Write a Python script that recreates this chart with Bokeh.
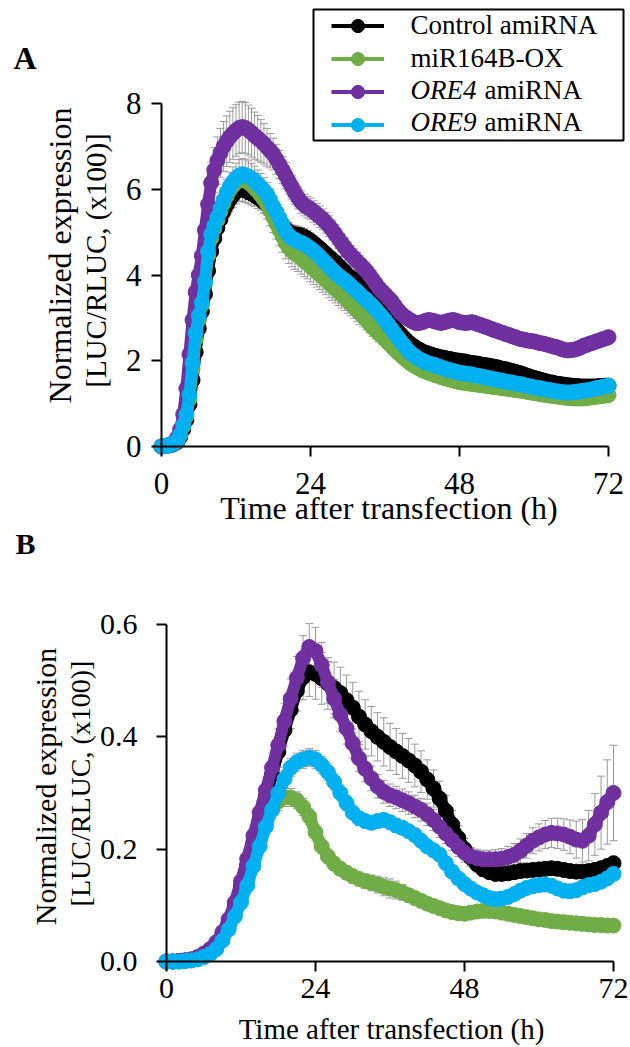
import math
from bokeh.plotting import figure
from bokeh.models import (ColumnDataSource, Range1d, FixedTicker, PrintfTickFormatter,
                          Label, Legend, LegendItem, BoxAnnotation, Whisker, TeeHead)
from bokeh.core.properties import value
from bokeh.layouts import column
from bokeh.embed import file_html
from bokeh.resources import INLINE

FONT = "Liberation Serif"
SERIES = ["Control amiRNA", "miR164B-OX", "ORE4 amiRNA", "ORE9 amiRNA"]
COLORS = ["#000000", "#70ad47", "#7030a0", "#00b0f0"]
ERR_COLOR = "#9a9a9a"
X_TICKS = [0, 24, 48, 72]
A_Y_TICKS = [0, 2, 4, 6, 8]
B_Y_TICKS = [0.0, 0.2, 0.4, 0.6]
X_TITLE = "Time after transfection (h)"
Y_TITLE_1 = "Normalized expression"
Y_TITLE_2 = "[LUC/RLUC, (x100)]"

# ---------------- Panel A (readings every 30 min, 0-72 h) ----------------
A_TIME = [i * 0.5 for i in range(145)]

A_CONTROL = [
    0.00, 0.01, 0.02, 0.03, 0.06, 0.10, 0.22, 0.40, 0.62, 0.98,
    1.55, 2.20, 2.75, 3.15, 3.55, 4.10, 4.55, 4.85, 5.10, 5.30,
    5.48, 5.63, 5.76, 5.86, 5.94, 6.00, 6.00, 5.97, 5.93, 5.90,
    5.86, 5.81, 5.76, 5.70, 5.64, 5.56, 5.48, 5.38, 5.28, 5.17,
    5.08, 5.01, 4.97, 4.95, 4.94, 4.92, 4.89, 4.85, 4.80, 4.74,
    4.68, 4.62, 4.55, 4.49, 4.42, 4.36, 4.30, 4.22, 4.15, 4.08,
    4.00, 3.94, 3.88, 3.81, 3.75, 3.68, 3.60, 3.52, 3.45, 3.36,
    3.27, 3.18, 3.10, 3.00, 2.90, 2.80, 2.70, 2.62, 2.54, 2.47,
    2.40, 2.35, 2.30, 2.26, 2.22, 2.19, 2.17, 2.14, 2.12, 2.10,
    2.08, 2.07, 2.05, 2.04, 2.02, 2.01, 2.00, 1.99, 1.98, 1.96,
    1.95, 1.94, 1.93, 1.91, 1.90, 1.89, 1.88, 1.86, 1.85, 1.83,
    1.81, 1.80, 1.78, 1.76, 1.74, 1.72, 1.70, 1.67, 1.65, 1.62,
    1.60, 1.58, 1.56, 1.54, 1.52, 1.50, 1.49, 1.47, 1.46, 1.45,
    1.44, 1.43, 1.42, 1.41, 1.41, 1.40, 1.40, 1.40, 1.40, 1.40,
    1.40, 1.41, 1.41, 1.42, 1.42]
A_MIR164 = [
    0.00, 0.01, 0.02, 0.04, 0.07, 0.12, 0.26, 0.46, 0.70, 1.10,
    1.80, 2.50, 2.95, 3.30, 3.80, 4.45, 4.85, 5.08, 5.28, 5.48,
    5.67, 5.84, 5.98, 6.08, 6.16, 6.20, 6.22, 6.20, 6.16, 6.10,
    6.03, 5.95, 5.86, 5.76, 5.65, 5.50, 5.35, 5.20, 5.05, 4.90,
    4.75, 4.64, 4.56, 4.50, 4.45, 4.39, 4.33, 4.27, 4.20, 4.14,
    4.07, 4.01, 3.95, 3.88, 3.81, 3.74, 3.68, 3.61, 3.54, 3.47,
    3.40, 3.33, 3.26, 3.18, 3.10, 3.03, 2.95, 2.87, 2.78, 2.71,
    2.64, 2.57, 2.50, 2.42, 2.35, 2.27, 2.20, 2.14, 2.07, 2.01,
    1.95, 1.90, 1.86, 1.82, 1.78, 1.75, 1.72, 1.70, 1.67, 1.65,
    1.62, 1.60, 1.58, 1.56, 1.54, 1.52, 1.50, 1.49, 1.48, 1.47,
    1.46, 1.45, 1.44, 1.43, 1.42, 1.41, 1.40, 1.39, 1.38, 1.37,
    1.36, 1.35, 1.34, 1.33, 1.32, 1.31, 1.30, 1.29, 1.27, 1.26,
    1.25, 1.24, 1.22, 1.21, 1.20, 1.19, 1.18, 1.17, 1.16, 1.15,
    1.14, 1.13, 1.13, 1.12, 1.12, 1.12, 1.12, 1.13, 1.14, 1.15,
    1.16, 1.17, 1.18, 1.19, 1.20]
A_ORE4 = [
    0.00, 0.01, 0.03, 0.05, 0.10, 0.20, 0.40, 0.75, 1.35, 2.15,
    2.95, 3.60, 4.00, 4.45, 5.05, 5.65, 6.15, 6.45, 6.67, 6.85,
    7.00, 7.12, 7.22, 7.30, 7.37, 7.43, 7.45, 7.43, 7.38, 7.32,
    7.25, 7.19, 7.13, 7.06, 6.98, 6.90, 6.82, 6.70, 6.58, 6.45,
    6.32, 6.18, 6.05, 5.92, 5.80, 5.70, 5.63, 5.58, 5.54, 5.48,
    5.42, 5.36, 5.30, 5.22, 5.14, 5.05, 4.95, 4.85, 4.75, 4.65,
    4.55, 4.47, 4.40, 4.32, 4.25, 4.17, 4.10, 4.00, 3.90, 3.80,
    3.70, 3.62, 3.55, 3.47, 3.40, 3.30, 3.20, 3.12, 3.05, 3.00,
    2.95, 2.91, 2.88, 2.88, 2.90, 2.93, 2.95, 2.94, 2.92, 2.90,
    2.88, 2.90, 2.92, 2.94, 2.95, 2.93, 2.90, 2.89, 2.88, 2.89,
    2.90, 2.88, 2.85, 2.83, 2.80, 2.78, 2.75, 2.72, 2.70, 2.67,
    2.65, 2.62, 2.60, 2.57, 2.55, 2.52, 2.50, 2.49, 2.47, 2.46,
    2.45, 2.43, 2.41, 2.40, 2.38, 2.36, 2.34, 2.32, 2.30, 2.27,
    2.25, 2.24, 2.25, 2.26, 2.28, 2.31, 2.35, 2.37, 2.40, 2.42,
    2.45, 2.47, 2.50, 2.52, 2.55]
A_ORE9 = [
    0.00, 0.01, 0.02, 0.04, 0.08, 0.13, 0.28, 0.50, 0.75, 1.20,
    1.95, 2.65, 3.05, 3.35, 3.85, 4.55, 4.95, 5.15, 5.35, 5.55,
    5.75, 5.92, 6.07, 6.17, 6.25, 6.32, 6.35, 6.33, 6.30, 6.25,
    6.20, 6.12, 6.05, 5.97, 5.88, 5.75, 5.60, 5.47, 5.33, 5.17,
    5.02, 4.92, 4.86, 4.82, 4.78, 4.75, 4.72, 4.67, 4.62, 4.56,
    4.50, 4.43, 4.35, 4.28, 4.20, 4.12, 4.05, 3.99, 3.93, 3.88,
    3.82, 3.75, 3.68, 3.62, 3.55, 3.48, 3.42, 3.35, 3.28, 3.20,
    3.12, 3.03, 2.95, 2.85, 2.75, 2.65, 2.55, 2.46, 2.37, 2.28,
    2.20, 2.14, 2.09, 2.04, 2.00, 1.97, 1.94, 1.92, 1.90, 1.87,
    1.85, 1.82, 1.80, 1.78, 1.76, 1.74, 1.72, 1.71, 1.70, 1.69,
    1.68, 1.66, 1.65, 1.63, 1.62, 1.60, 1.59, 1.57, 1.56, 1.54,
    1.53, 1.51, 1.50, 1.49, 1.47, 1.46, 1.45, 1.43, 1.41, 1.40,
    1.38, 1.37, 1.36, 1.34, 1.33, 1.32, 1.30, 1.29, 1.28, 1.27,
    1.26, 1.26, 1.26, 1.27, 1.28, 1.29, 1.30, 1.31, 1.32, 1.34,
    1.36, 1.37, 1.39, 1.40, 1.42]

A_CONTROL_ERR = [
    0.01, 0.01, 0.01, 0.01, 0.02, 0.02, 0.03, 0.05, 0.07, 0.10,
    0.13, 0.16, 0.18, 0.20, 0.22, 0.23, 0.24, 0.25, 0.26, 0.27,
    0.27, 0.28, 0.28, 0.28, 0.28, 0.28, 0.28, 0.28, 0.27, 0.27,
    0.26, 0.26, 0.25, 0.25, 0.24, 0.24, 0.23, 0.23, 0.22, 0.22,
    0.21, 0.21, 0.20, 0.20, 0.20, 0.19, 0.19, 0.19, 0.18, 0.18,
    0.18, 0.17, 0.17, 0.17, 0.16, 0.16, 0.16, 0.15, 0.15, 0.15,
    0.14, 0.14, 0.14, 0.13, 0.13, 0.13, 0.12, 0.12, 0.12, 0.11,
    0.11, 0.11, 0.10, 0.10, 0.10, 0.10, 0.09, 0.09, 0.09, 0.09,
    0.08, 0.08, 0.08, 0.08, 0.08, 0.08, 0.08, 0.08, 0.08, 0.08,
    0.08, 0.08, 0.08, 0.08, 0.08, 0.08, 0.08, 0.08, 0.08, 0.08,
    0.08, 0.08, 0.08, 0.08, 0.08, 0.08, 0.08, 0.08, 0.08, 0.08,
    0.08, 0.08, 0.08, 0.08, 0.08, 0.08, 0.08, 0.08, 0.08, 0.08,
    0.08, 0.08, 0.08, 0.08, 0.08, 0.08, 0.08, 0.08, 0.08, 0.08,
    0.08, 0.08, 0.08, 0.08, 0.08, 0.08, 0.08, 0.08, 0.08, 0.08,
    0.08, 0.08, 0.08, 0.08, 0.08]
A_MIR164_ERR = [
    0.01, 0.01, 0.01, 0.01, 0.02, 0.02, 0.03, 0.04, 0.05, 0.07,
    0.09, 0.11, 0.12, 0.13, 0.14, 0.15, 0.16, 0.17, 0.18, 0.19,
    0.20, 0.21, 0.22, 0.22, 0.23, 0.23, 0.24, 0.24, 0.25, 0.26,
    0.27, 0.28, 0.30, 0.32, 0.34, 0.35, 0.36, 0.36, 0.37, 0.37,
    0.37, 0.37, 0.37, 0.37, 0.37, 0.37, 0.37, 0.36, 0.36, 0.36,
    0.35, 0.35, 0.35, 0.34, 0.34, 0.33, 0.33, 0.32, 0.31, 0.30,
    0.29, 0.28, 0.27, 0.26, 0.25, 0.24, 0.23, 0.22, 0.21, 0.20,
    0.19, 0.18, 0.17, 0.16, 0.15, 0.14, 0.13, 0.12, 0.11, 0.10,
    0.09, 0.09, 0.09, 0.09, 0.09, 0.09, 0.09, 0.09, 0.09, 0.09,
    0.08, 0.08, 0.08, 0.08, 0.08, 0.08, 0.08, 0.08, 0.08, 0.08,
    0.08, 0.08, 0.08, 0.08, 0.08, 0.08, 0.08, 0.08, 0.08, 0.08,
    0.08, 0.08, 0.08, 0.08, 0.08, 0.08, 0.08, 0.08, 0.08, 0.08,
    0.08, 0.08, 0.08, 0.08, 0.08, 0.08, 0.08, 0.08, 0.08, 0.08,
    0.08, 0.08, 0.08, 0.08, 0.08, 0.08, 0.08, 0.08, 0.08, 0.08,
    0.08, 0.08, 0.08, 0.08, 0.08]
A_ORE4_ERR = [
    0.01, 0.01, 0.01, 0.02, 0.02, 0.03, 0.05, 0.08, 0.12, 0.18,
    0.24, 0.28, 0.32, 0.36, 0.40, 0.44, 0.48, 0.52, 0.55, 0.57,
    0.58, 0.59, 0.60, 0.60, 0.60, 0.60, 0.60, 0.59, 0.58, 0.57,
    0.55, 0.53, 0.50, 0.47, 0.44, 0.40, 0.37, 0.35, 0.33, 0.31,
    0.30, 0.29, 0.28, 0.27, 0.26, 0.26, 0.25, 0.25, 0.25, 0.25,
    0.25, 0.25, 0.24, 0.24, 0.24, 0.23, 0.23, 0.23, 0.22, 0.22,
    0.22, 0.22, 0.21, 0.21, 0.21, 0.20, 0.20, 0.20, 0.20, 0.19,
    0.19, 0.19, 0.18, 0.18, 0.18, 0.17, 0.17, 0.16, 0.16, 0.15,
    0.15, 0.14, 0.14, 0.13, 0.13, 0.13, 0.12, 0.12, 0.12, 0.12,
    0.12, 0.12, 0.12, 0.12, 0.12, 0.12, 0.12, 0.12, 0.12, 0.12,
    0.11, 0.11, 0.11, 0.11, 0.11, 0.11, 0.11, 0.11, 0.11, 0.11,
    0.11, 0.11, 0.11, 0.11, 0.11, 0.11, 0.11, 0.11, 0.11, 0.11,
    0.10, 0.10, 0.10, 0.10, 0.10, 0.10, 0.10, 0.10, 0.10, 0.10,
    0.10, 0.10, 0.10, 0.10, 0.10, 0.10, 0.10, 0.10, 0.10, 0.10,
    0.10, 0.10, 0.10, 0.10, 0.10]
A_ORE9_ERR = [
    0.01, 0.01, 0.01, 0.01, 0.02, 0.02, 0.03, 0.04, 0.05, 0.07,
    0.09, 0.11, 0.13, 0.15, 0.17, 0.19, 0.21, 0.23, 0.25, 0.27,
    0.29, 0.31, 0.33, 0.35, 0.36, 0.37, 0.37, 0.37, 0.36, 0.35,
    0.34, 0.33, 0.32, 0.30, 0.28, 0.26, 0.24, 0.22, 0.20, 0.19,
    0.18, 0.17, 0.16, 0.16, 0.15, 0.15, 0.15, 0.14, 0.14, 0.14,
    0.13, 0.13, 0.13, 0.13, 0.13, 0.12, 0.12, 0.12, 0.12, 0.12,
    0.11, 0.11, 0.11, 0.11, 0.11, 0.10, 0.10, 0.10, 0.10, 0.10,
    0.09, 0.09, 0.09, 0.09, 0.09, 0.09, 0.09, 0.09, 0.09, 0.09,
    0.08, 0.08, 0.08, 0.08, 0.08, 0.08, 0.08, 0.08, 0.08, 0.08,
    0.08, 0.08, 0.08, 0.08, 0.08, 0.08, 0.08, 0.08, 0.08, 0.08,
    0.08, 0.08, 0.08, 0.08, 0.08, 0.08, 0.08, 0.08, 0.08, 0.08,
    0.08, 0.08, 0.08, 0.08, 0.08, 0.08, 0.08, 0.08, 0.08, 0.08,
    0.08, 0.08, 0.08, 0.08, 0.08, 0.08, 0.08, 0.08, 0.08, 0.08,
    0.08, 0.08, 0.08, 0.08, 0.08, 0.08, 0.08, 0.08, 0.08, 0.08,
    0.08, 0.08, 0.08, 0.08, 0.08]

# ---------------- Panel B (readings every hour, 0-72 h) ----------------
B_TIME = list(range(73))

B_CONTROL = [
    0.000, 0.000, 0.001, 0.002, 0.003, 0.006, 0.011, 0.018, 0.029, 0.046,
    0.069, 0.098, 0.133, 0.172, 0.212, 0.253, 0.293, 0.333, 0.373, 0.412,
    0.448, 0.482, 0.506, 0.515, 0.512, 0.504, 0.495, 0.487, 0.478, 0.465,
    0.452, 0.436, 0.422, 0.410, 0.400, 0.391, 0.382, 0.374, 0.366, 0.358,
    0.349, 0.338, 0.324, 0.308, 0.290, 0.268, 0.244, 0.220, 0.200, 0.185,
    0.173, 0.164, 0.159, 0.156, 0.156, 0.157, 0.159, 0.161, 0.162, 0.163,
    0.164, 0.165, 0.166, 0.165, 0.163, 0.161, 0.160, 0.160, 0.161, 0.163,
    0.166, 0.170, 0.175]
B_MIR164 = [
    0.000, 0.000, 0.000, 0.001, 0.002, 0.004, 0.008, 0.013, 0.024, 0.040,
    0.060, 0.085, 0.115, 0.145, 0.180, 0.215, 0.245, 0.270, 0.285, 0.292,
    0.292, 0.287, 0.275, 0.258, 0.230, 0.205, 0.187, 0.174, 0.165, 0.158,
    0.152, 0.147, 0.143, 0.140, 0.137, 0.133, 0.130, 0.127, 0.123, 0.118,
    0.113, 0.108, 0.103, 0.099, 0.095, 0.091, 0.088, 0.086, 0.085, 0.087,
    0.089, 0.090, 0.090, 0.089, 0.087, 0.085, 0.083, 0.081, 0.079, 0.077,
    0.075, 0.074, 0.072, 0.071, 0.070, 0.069, 0.068, 0.067, 0.066, 0.065,
    0.065, 0.064, 0.064]
B_ORE4 = [
    0.000, 0.000, 0.001, 0.002, 0.004, 0.008, 0.014, 0.022, 0.034, 0.052,
    0.075, 0.105, 0.143, 0.183, 0.224, 0.265, 0.305, 0.345, 0.385, 0.428,
    0.468, 0.505, 0.540, 0.560, 0.553, 0.528, 0.497, 0.468, 0.440, 0.415,
    0.388, 0.362, 0.343, 0.326, 0.312, 0.302, 0.296, 0.292, 0.287, 0.282,
    0.276, 0.270, 0.262, 0.252, 0.240, 0.228, 0.216, 0.204, 0.194, 0.187,
    0.184, 0.182, 0.182, 0.182, 0.183, 0.186, 0.190, 0.197, 0.206, 0.215,
    0.221, 0.226, 0.229, 0.228, 0.226, 0.222, 0.217, 0.215, 0.224, 0.244,
    0.265, 0.284, 0.300]
B_ORE9 = [
    0.000, 0.000, 0.000, 0.001, 0.002, 0.004, 0.008, 0.013, 0.022, 0.037,
    0.057, 0.080, 0.105, 0.135, 0.170, 0.205, 0.240, 0.270, 0.300, 0.325,
    0.345, 0.355, 0.360, 0.363, 0.360, 0.350, 0.337, 0.320, 0.300, 0.282,
    0.265, 0.255, 0.250, 0.247, 0.250, 0.252, 0.248, 0.242, 0.238, 0.232,
    0.225, 0.215, 0.205, 0.198, 0.190, 0.175, 0.160, 0.148, 0.138, 0.130,
    0.123, 0.118, 0.113, 0.111, 0.112, 0.115, 0.120, 0.126, 0.131, 0.134,
    0.136, 0.137, 0.135, 0.130, 0.126, 0.125, 0.127, 0.132, 0.136, 0.138,
    0.142, 0.148, 0.156]

B_CONTROL_ERR = [
    0.002, 0.002, 0.002, 0.002, 0.003, 0.003, 0.004, 0.005, 0.006, 0.008,
    0.010, 0.012, 0.014, 0.016, 0.018, 0.020, 0.022, 0.024, 0.027, 0.030,
    0.033, 0.036, 0.040, 0.043, 0.045, 0.046, 0.046, 0.046, 0.046, 0.045,
    0.045, 0.045, 0.044, 0.044, 0.043, 0.043, 0.042, 0.041, 0.040, 0.039,
    0.038, 0.037, 0.035, 0.033, 0.031, 0.028, 0.025, 0.022, 0.019, 0.016,
    0.014, 0.012, 0.011, 0.010, 0.010, 0.010, 0.010, 0.010, 0.010, 0.010,
    0.010, 0.010, 0.010, 0.010, 0.010, 0.010, 0.010, 0.010, 0.010, 0.010,
    0.010, 0.010, 0.010]
B_MIR164_ERR = [
    0.001, 0.001, 0.001, 0.002, 0.002, 0.002, 0.003, 0.004, 0.005, 0.006,
    0.007, 0.008, 0.009, 0.010, 0.012, 0.013, 0.014, 0.015, 0.016, 0.016,
    0.016, 0.015, 0.015, 0.014, 0.014, 0.013, 0.013, 0.012, 0.012, 0.012,
    0.012, 0.012, 0.013, 0.014, 0.015, 0.016, 0.017, 0.016, 0.014, 0.012,
    0.010, 0.010, 0.010, 0.010, 0.009, 0.009, 0.009, 0.009, 0.009, 0.009,
    0.009, 0.009, 0.009, 0.009, 0.008, 0.008, 0.008, 0.008, 0.008, 0.008,
    0.008, 0.008, 0.008, 0.008, 0.008, 0.008, 0.008, 0.008, 0.008, 0.008,
    0.008, 0.008, 0.008]
B_ORE4_ERR = [
    0.002, 0.002, 0.002, 0.003, 0.003, 0.004, 0.005, 0.006, 0.007, 0.009,
    0.011, 0.013, 0.015, 0.017, 0.019, 0.021, 0.023, 0.026, 0.029, 0.032,
    0.035, 0.038, 0.040, 0.042, 0.042, 0.040, 0.037, 0.034, 0.031, 0.028,
    0.026, 0.024, 0.023, 0.022, 0.021, 0.020, 0.020, 0.020, 0.020, 0.020,
    0.020, 0.020, 0.020, 0.019, 0.019, 0.018, 0.018, 0.017, 0.017, 0.016,
    0.016, 0.016, 0.016, 0.017, 0.018, 0.019, 0.020, 0.021, 0.022, 0.023,
    0.024, 0.025, 0.026, 0.027, 0.028, 0.030, 0.033, 0.038, 0.045, 0.055,
    0.065, 0.075, 0.085]
B_ORE9_ERR = [
    0.001, 0.001, 0.001, 0.002, 0.002, 0.002, 0.003, 0.003, 0.004, 0.005,
    0.006, 0.007, 0.008, 0.009, 0.010, 0.011, 0.012, 0.013, 0.014, 0.015,
    0.016, 0.016, 0.016, 0.016, 0.016, 0.015, 0.015, 0.014, 0.014, 0.013,
    0.012, 0.012, 0.012, 0.012, 0.012, 0.012, 0.012, 0.012, 0.011, 0.011,
    0.011, 0.011, 0.011, 0.011, 0.011, 0.011, 0.010, 0.010, 0.010, 0.010,
    0.010, 0.010, 0.010, 0.010, 0.010, 0.010, 0.010, 0.010, 0.010, 0.010,
    0.010, 0.010, 0.010, 0.010, 0.010, 0.010, 0.010, 0.010, 0.010, 0.010,
    0.010, 0.010, 0.010]

for arr in (A_CONTROL, A_MIR164, A_ORE4, A_ORE9, A_CONTROL_ERR, A_MIR164_ERR, A_ORE4_ERR, A_ORE9_ERR):
    assert len(arr) == len(A_TIME), len(arr)
for arr in (B_CONTROL, B_MIR164, B_ORE4, B_ORE9, B_CONTROL_ERR, B_MIR164_ERR, B_ORE4_ERR, B_ORE9_ERR):
    assert len(arr) == len(B_TIME), len(arr)

# Bokeh's standalone page template has no body margin: the canvas starts at (0, 0)
PAGE_W = 630
DRAW_ORDER = [0, 1, 2, 3]  # control, miR164B-OX, ORE4, ORE9 (ORE9 on top)
NAN = float("nan")
BASELINE_SHIFT = 0.4       # label anchor correction, in em


def build_panel(cfg, time, vals, errs, yticks, yfmt, tick_font, x_standoff, y_standoff):
    # the plotting frame covers the whole canvas; axes sit at data 0
    ox, oy = cfg["origin"]          # page px of data (0, 0)
    ct, cb = cfg["canvas"]          # page px of canvas top / bottom
    sx, sy = cfg["sx"], cfg["sy"]   # px per unit
    fl, fr = 0, PAGE_W
    x0, x1 = (fl - ox) / sx, (fr - ox) / sx
    y0, y1 = -(cb - oy) / sy, (oy - ct) / sy
    p = figure(width=PAGE_W, height=cb - ct,
               x_range=Range1d(x0, x1), y_range=Range1d(y0, y1),
               output_backend="svg", toolbar_location=None,
               min_border_left=0, min_border_right=0,
               min_border_top=0, min_border_bottom=0)
    p.xgrid.visible = False
    p.ygrid.visible = False
    p.outline_line_color = None
    p.background_fill_color = "white"
    p.border_fill_color = "white"

    for ax, ticks, stand in ((p.xaxis[0], X_TICKS, x_standoff), (p.yaxis[0], yticks, y_standoff)):
        ax.ticker = FixedTicker(ticks=ticks)
        ax.bounds = (ticks[0], ticks[-1])
        ax.fixed_location = 0
        ax.axis_line_width = 2
        ax.axis_line_color = "black"
        ax.major_tick_line_width = 2
        ax.major_tick_line_color = "black"
        ax.major_tick_out = 10
        ax.major_tick_in = 0
        ax.minor_tick_out = 0
        ax.minor_tick_in = 0
        ax.major_label_text_font = FONT
        ax.major_label_text_font_size = tick_font
        ax.major_label_text_color = "black"
        ax.major_label_standoff = stand
    if yfmt:
        p.yaxis[0].formatter = PrintfTickFormatter(format=yfmt)

    # error bars under the markers
    for i in DRAW_ORDER:
        y, e = vals[i], errs[i]
        src = ColumnDataSource(dict(base=time,
                                    upper=[a + b for a, b in zip(y, e)],
                                    lower=[a - b for a, b in zip(y, e)]))
        w = Whisker(source=src, base="base", upper="upper", lower="lower",
                    line_color=ERR_COLOR, line_width=1, level="underlay",
                    upper_head=TeeHead(size=8, line_color=ERR_COLOR, line_width=1),
                    lower_head=TeeHead(size=8, line_color=ERR_COLOR, line_width=1))
        p.add_layout(w)

    for i in DRAW_ORDER:
        src = ColumnDataSource(dict(t=time, y=vals[i]))
        p.line("t", "y", source=src, line_color=COLORS[i], line_width=12,
               line_join="round", line_cap="round")
        p.scatter("t", "y", source=src, size=15, fill_color=COLORS[i], line_color=COLORS[i])

    def X(px):
        return x0 + (px - fl) / sx

    def Y(py):
        return y0 + (cb - py) / sy

    return p, X, Y


def add_label(p, X, Y, px, py, text, fs, align="center", vertical=False, style="normal"):
    """px, py: page position of the text baseline anchor."""
    shift = BASELINE_SHIFT * fs
    if vertical:
        ax, ay, angle = px - shift, py, math.pi / 2
    else:
        ax, ay, angle = px, py - shift, 0.0
    p.add_layout(Label(x=X(ax), y=Y(ay), text=text, text_font=FONT,
                       text_font_size=f"{fs}px", text_align=align,
                       text_baseline="alphabetic", angle=angle,
                       text_font_style=style, text_color="black"))


# ---------- Panel A ----------
cfgA = dict(origin=(161, 446), canvas=(0, 528), sx=447 / 72, sy=343 / 8)
pA, XA, YA = build_panel(cfgA, A_TIME, [A_CONTROL, A_MIR164, A_ORE4, A_ORE9],
                         [A_CONTROL_ERR, A_MIR164_ERR, A_ORE4_ERR, A_ORE9_ERR],
                         A_Y_TICKS, None, "31px", 16, 10)
add_label(pA, XA, YA, 13, 70, "A", 32, align="left", style="bold")
add_label(pA, XA, YA, 72, 255, Y_TITLE_1, 32, vertical=True)
add_label(pA, XA, YA, 107, 260, Y_TITLE_2, 29, vertical=True)
add_label(pA, XA, YA, 388.5, 520, X_TITLE, 32)

# legend: glyph samples from Bokeh's legend, texts as labels (gene names italic)
items = []
for name, color in zip(SERIES, COLORS):
    lr = pA.line(x=[NAN], y=[NAN], line_color=color, line_width=4)
    sr = pA.scatter(x=[NAN], y=[NAN], size=14, fill_color=color, line_color=color)
    items.append(LegendItem(label=value(" "), renderers=[lr, sr]))
legend = Legend(items=items, location=(331, 528 - 140.5), orientation="vertical",
                glyph_width=53, glyph_height=33, label_width=0, label_height=0,
                label_standoff=0, padding=0, spacing=0, margin=0,
                border_line_alpha=0, background_fill_alpha=0, label_text_font_size="1px")
pA.add_layout(legend)
pA.add_layout(BoxAnnotation(left=XA(313), right=XA(623), top=YA(9), bottom=YA(140),
                            fill_alpha=0, line_color="black", line_alpha=1.0, line_width=2))
LEG_FS = 27
add_label(pA, XA, YA, 410, 35, "Control amiRNA", LEG_FS, align="left")
add_label(pA, XA, YA, 410, 68, "miR164B-OX", LEG_FS, align="left")
add_label(pA, XA, YA, 410, 100, "ORE4", LEG_FS, align="left", style="italic")
add_label(pA, XA, YA, 484, 100, "amiRNA", LEG_FS, align="left")
add_label(pA, XA, YA, 410, 132, "ORE9", LEG_FS, align="left", style="italic")
add_label(pA, XA, YA, 484, 132, "amiRNA", LEG_FS, align="left")

# ---------- Panel B ----------
cfgB = dict(origin=(166, 961), canvas=(528, 1047), sx=447 / 72, sy=337 / 0.6)
pB, XB, YB = build_panel(cfgB, B_TIME, [B_CONTROL, B_MIR164, B_ORE4, B_ORE9],
                         [B_CONTROL_ERR, B_MIR164_ERR, B_ORE4_ERR, B_ORE9_ERR],
                         B_Y_TICKS, "%.1f", "30px", 7, 19)
add_label(pB, XB, YB, 15, 555, "B", 30, align="left", style="bold")
add_label(pB, XB, YB, 57, 786, Y_TITLE_1, 30, vertical=True)
add_label(pB, XB, YB, 91, 783, Y_TITLE_2, 28, vertical=True)
add_label(pB, XB, YB, 391, 1040, X_TITLE, 29)

layout = column(pA, pB)
open("out.html", "w").write(file_html(layout, INLINE))
